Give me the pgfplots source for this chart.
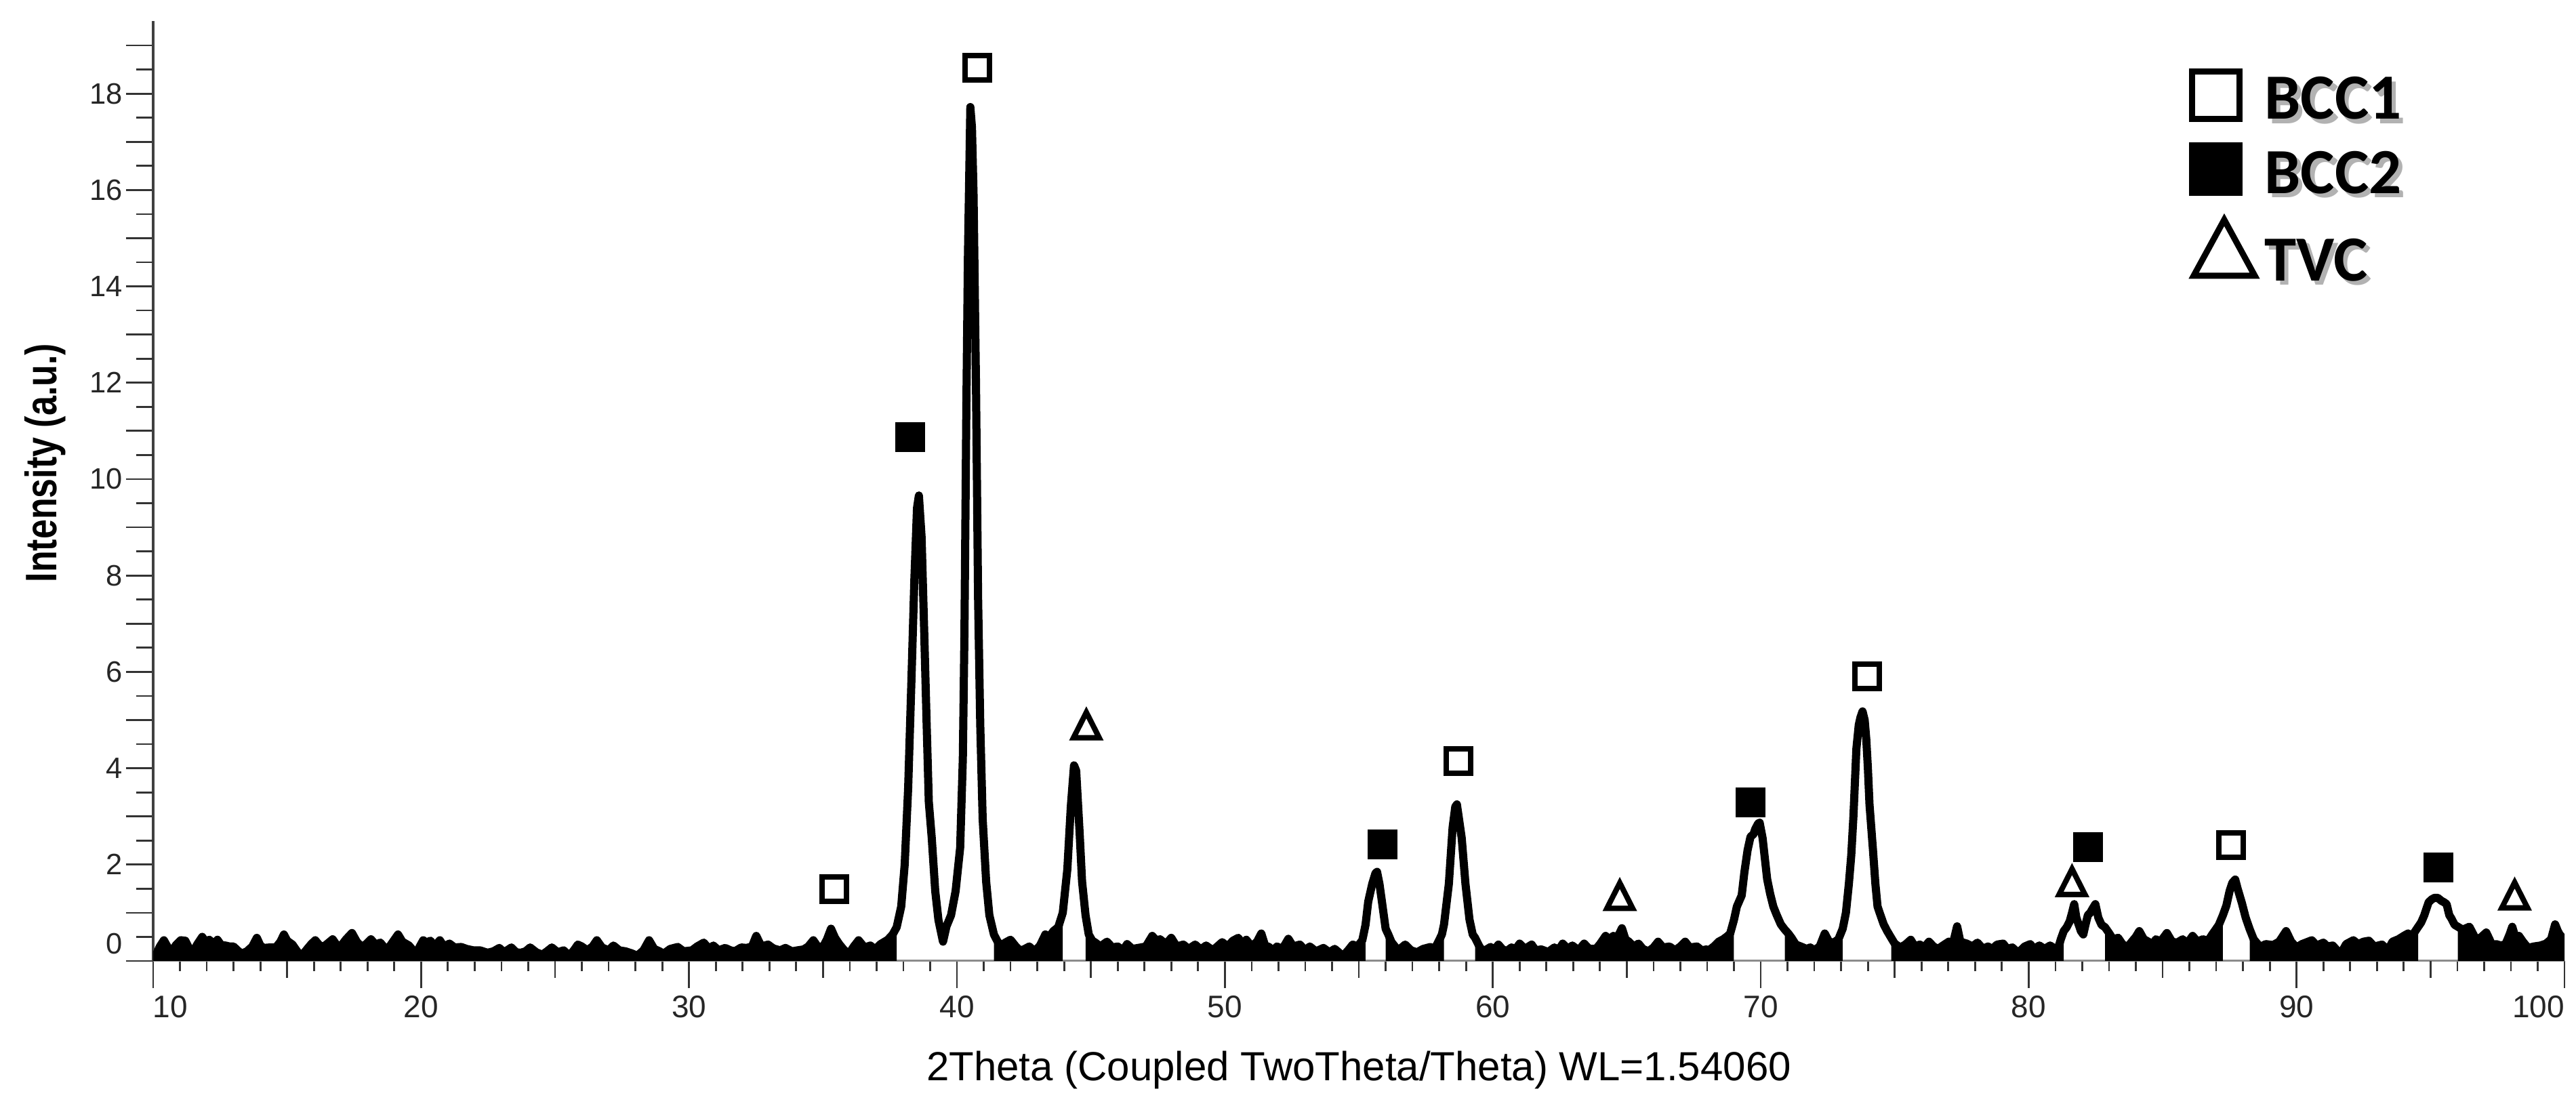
\documentclass[border=0pt]{standalone}
\usepackage{pgfplots}
\pgfplotsset{compat=1.18}
\usepackage{pgfplotstable}
\usepackage{fontspec}
\setmainfont{Liberation Sans}
\newfontfamily\ylabfont[FakeStretch=0.8]{Liberation Sans}
\newfontfamily\legfont{Carlito}
\newcommand\shadowed[1]{\makebox[0pt][l]{\hspace{1.3pt}\raisebox{-1.3pt}{\color{black!30}#1}}#1}

\pgfdeclareplotmark{tvc}{%
  \pgfpathmoveto{\pgfqpoint{0pt}{0.85\pgfplotmarksize}}%
  \pgfpathlineto{\pgfqpoint{0.95\pgfplotmarksize}{-1.025\pgfplotmarksize}}%
  \pgfpathlineto{\pgfqpoint{-0.95\pgfplotmarksize}{-1.025\pgfplotmarksize}}%
  \pgfpathclose
  \pgfusepathqfillstroke}

\pgfplotstableread[row sep=\\]{
x y\\
10.0 0.05\\ 10.1 0.12\\ 10.25 0.30\\ 10.4 0.43\\ 10.55 0.28\\ 10.7 0.20\\ 10.85 0.33\\ 11.03 0.43\\ 11.2 0.42\\ 11.35 0.25\\
11.47 0.17\\ 11.65 0.35\\ 11.83 0.50\\ 11.95 0.40\\ 12.1 0.44\\ 12.25 0.34\\ 12.4 0.44\\ 12.55 0.32\\ 12.7 0.32\\ 12.85 0.30\\
13.0 0.30\\ 13.15 0.22\\ 13.3 0.15\\ 13.5 0.20\\ 13.7 0.30\\ 13.87 0.48\\ 14.0 0.32\\ 14.13 0.27\\ 14.35 0.28\\ 14.58 0.28\\
14.75 0.40\\ 14.88 0.55\\ 15.0 0.42\\ 15.2 0.34\\ 15.4 0.18\\ 15.55 0.11\\ 15.75 0.25\\ 15.9 0.35\\ 16.05 0.43\\ 16.2 0.33\\
16.35 0.29\\ 16.55 0.38\\ 16.7 0.45\\ 16.85 0.33\\ 16.98 0.29\\ 17.2 0.45\\ 17.42 0.58\\ 17.6 0.40\\ 17.78 0.29\\ 17.95 0.35\\
18.13 0.45\\ 18.3 0.34\\ 18.48 0.38\\ 18.6 0.30\\ 18.75 0.24\\ 18.95 0.40\\ 19.14 0.55\\ 19.3 0.40\\ 19.55 0.32\\ 19.7 0.22\\
19.82 0.15\\ 19.95 0.30\\ 20.08 0.43\\ 20.2 0.38\\ 20.35 0.42\\ 20.5 0.30\\ 20.7 0.43\\ 20.85 0.30\\ 21.06 0.36\\ 21.25 0.28\\
21.5 0.29\\ 21.7 0.25\\ 21.95 0.22\\ 22.2 0.22\\ 22.48 0.17\\ 22.7 0.20\\ 22.92 0.27\\ 23.1 0.18\\ 23.37 0.28\\ 23.55 0.18\\
23.72 0.17\\ 23.9 0.20\\ 24.07 0.28\\ 24.3 0.18\\ 24.52 0.13\\ 24.7 0.20\\ 24.88 0.28\\ 25.1 0.18\\ 25.32 0.22\\ 25.53 0.11\\
25.7 0.22\\ 25.85 0.34\\ 26.0 0.30\\ 26.2 0.22\\ 26.4 0.30\\ 26.56 0.43\\ 26.75 0.28\\ 27.0 0.22\\ 27.18 0.32\\ 27.4 0.22\\
27.63 0.20\\ 27.85 0.16\\ 28.07 0.11\\ 28.3 0.22\\ 28.51 0.43\\ 28.7 0.25\\ 28.9 0.20\\ 29.05 0.15\\ 29.3 0.25\\ 29.58 0.29\\
29.8 0.20\\ 30.11 0.22\\ 30.3 0.30\\ 30.55 0.38\\ 30.75 0.25\\ 30.91 0.32\\ 31.1 0.22\\ 31.35 0.27\\ 31.55 0.22\\ 31.71 0.20\\
31.95 0.28\\ 32.15 0.27\\ 32.35 0.30\\ 32.51 0.52\\ 32.7 0.30\\ 32.95 0.34\\ 33.15 0.26\\ 33.4 0.22\\ 33.6 0.27\\ 33.84 0.20\\
34.05 0.22\\ 34.28 0.24\\ 34.45 0.30\\ 34.64 0.43\\ 34.8 0.30\\ 35.0 0.29\\ 35.15 0.45\\ 35.3 0.67\\ 35.45 0.48\\ 35.62 0.34\\
35.8 0.22\\ 35.97 0.15\\ 36.15 0.30\\ 36.33 0.43\\ 36.55 0.28\\ 36.77 0.32\\ 36.95 0.24\\ 37.15 0.35\\ 37.42 0.44\\ 37.6 0.55\\
37.75 0.70\\ 37.92 1.13\\ 38.05 2.0\\ 38.18 3.6\\ 38.3 5.8\\ 38.41 7.9\\ 38.51 9.4\\ 38.58 9.66\\ 38.68 8.8\\ 38.78 6.8\\
38.87 4.9\\ 38.95 3.3\\ 39.06 2.55\\ 39.19 1.45\\ 39.31 0.85\\ 39.48 0.40\\ 39.61 0.72\\ 39.78 0.95\\ 39.95 1.45\\ 40.12 2.35\\
40.22 4.2\\ 40.28 6.8\\ 40.35 11.4\\ 40.41 14.6\\ 40.5 17.72\\ 40.56 17.3\\ 40.62 15.9\\ 40.71 12.0\\ 40.79 7.5\\ 40.87 4.9\\
40.96 2.95\\ 41.09 1.65\\ 41.21 0.95\\ 41.38 0.55\\ 41.5 0.42\\ 41.65 0.30\\ 41.8 0.38\\ 42.0 0.44\\ 42.2 0.30\\ 42.35 0.22\\
42.5 0.24\\ 42.7 0.30\\ 42.9 0.20\\ 43.1 0.32\\ 43.3 0.55\\ 43.45 0.50\\ 43.6 0.62\\ 43.78 0.70\\ 43.95 1.0\\ 44.12 1.9\\
44.25 3.2\\ 44.37 4.06\\ 44.45 3.95\\ 44.58 2.65\\ 44.67 1.65\\ 44.8 0.95\\ 44.92 0.55\\ 45.05 0.42\\ 45.17 0.38\\ 45.35 0.30\\
45.6 0.40\\ 45.8 0.28\\ 46.0 0.30\\ 46.2 0.22\\ 46.35 0.35\\ 46.55 0.25\\ 46.86 0.28\\ 47.05 0.30\\ 47.29 0.52\\ 47.45 0.42\\
47.58 0.45\\ 47.8 0.35\\ 48.0 0.48\\ 48.2 0.30\\ 48.45 0.34\\ 48.65 0.25\\ 48.89 0.34\\ 49.1 0.24\\ 49.3 0.32\\ 49.55 0.22\\
49.9 0.39\\ 50.1 0.30\\ 50.3 0.42\\ 50.5 0.48\\ 50.65 0.35\\ 50.8 0.44\\ 51.0 0.30\\ 51.2 0.40\\ 51.36 0.57\\ 51.5 0.32\\
51.65 0.29\\ 51.8 0.20\\ 51.94 0.30\\ 52.15 0.25\\ 52.37 0.46\\ 52.55 0.30\\ 52.8 0.34\\ 53.0 0.22\\ 53.17 0.30\\ 53.4 0.20\\
53.68 0.27\\ 53.9 0.18\\ 54.1 0.25\\ 54.25 0.18\\ 54.4 0.10\\ 54.6 0.22\\ 54.77 0.34\\ 54.95 0.30\\ 55.13 0.43\\ 55.25 0.75\\
55.35 1.23\\ 55.5 1.60\\ 55.62 1.82\\ 55.68 1.85\\ 55.77 1.6\\ 55.86 1.24\\ 56.0 0.67\\ 56.1 0.55\\ 56.22 0.39\\ 56.35 0.30\\
56.44 0.20\\ 56.6 0.28\\ 56.73 0.34\\ 56.95 0.22\\ 57.17 0.18\\ 57.4 0.25\\ 57.67 0.29\\ 57.8 0.22\\ 57.96 0.39\\ 58.1 0.55\\
58.18 0.76\\ 58.36 1.6\\ 58.5 2.77\\ 58.6 3.2\\ 58.66 3.25\\ 58.75 2.9\\ 58.84 2.55\\ 58.98 1.6\\ 59.13 0.86\\ 59.25 0.55\\
59.34 0.48\\ 59.5 0.30\\ 59.63 0.20\\ 59.8 0.25\\ 59.92 0.29\\ 60.05 0.22\\ 60.21 0.34\\ 60.35 0.25\\ 60.5 0.20\\ 60.7 0.28\\
60.85 0.24\\ 61.0 0.36\\ 61.2 0.25\\ 61.45 0.34\\ 61.6 0.22\\ 61.81 0.24\\ 62.0 0.20\\ 62.1 0.20\\ 62.3 0.28\\ 62.45 0.22\\
62.61 0.36\\ 62.8 0.25\\ 62.97 0.32\\ 63.2 0.22\\ 63.41 0.36\\ 63.6 0.25\\ 63.85 0.25\\ 64.0 0.35\\ 64.21 0.52\\ 64.35 0.45\\
64.5 0.52\\ 64.65 0.48\\ 64.82 0.68\\ 64.95 0.45\\ 65.08 0.40\\ 65.25 0.30\\ 65.44 0.36\\ 65.6 0.25\\ 65.81 0.20\\ 66.0 0.28\\
66.17 0.40\\ 66.35 0.28\\ 66.6 0.30\\ 66.8 0.22\\ 67.0 0.30\\ 67.18 0.40\\ 67.35 0.28\\ 67.62 0.30\\ 67.8 0.22\\ 67.98 0.24\\
68.06 0.22\\ 68.25 0.30\\ 68.43 0.40\\ 68.6 0.45\\ 68.77 0.52\\ 68.86 0.57\\ 69.0 0.85\\ 69.11 1.13\\ 69.29 1.36\\ 69.39 1.84\\
69.51 2.3\\ 69.62 2.58\\ 69.73 2.63\\ 69.79 2.73\\ 69.9 2.85\\ 69.96 2.87\\ 70.07 2.55\\ 70.24 1.70\\ 70.35 1.4\\ 70.47 1.13\\
70.6 0.95\\ 70.75 0.76\\ 70.9 0.65\\ 71.03 0.57\\ 71.15 0.48\\ 71.31 0.34\\ 71.5 0.30\\ 71.71 0.25\\ 71.85 0.28\\ 71.99 0.22\\
72.2 0.30\\ 72.39 0.57\\ 72.55 0.40\\ 72.72 0.38\\ 72.9 0.45\\ 73.06 0.67\\ 73.18 1.0\\ 73.29 1.6\\ 73.38 2.2\\ 73.46 3.0\\
73.57 4.4\\ 73.66 4.9\\ 73.72 5.05\\ 73.8 5.18\\ 73.88 5.0\\ 73.94 4.6\\ 74.0 4.0\\ 74.06 3.25\\ 74.19 2.3\\ 74.28 1.6\\
74.36 1.13\\ 74.47 0.95\\ 74.59 0.76\\ 74.72 0.62\\ 74.87 0.48\\ 75.0 0.36\\ 75.21 0.28\\ 75.4 0.34\\ 75.6 0.44\\ 75.75 0.30\\
75.94 0.34\\ 76.1 0.28\\ 76.28 0.40\\ 76.45 0.30\\ 76.62 0.25\\ 76.8 0.32\\ 77.02 0.40\\ 77.15 0.30\\ 77.33 0.72\\ 77.45 0.40\\
77.69 0.36\\ 77.9 0.30\\ 78.09 0.38\\ 78.3 0.25\\ 78.48 0.30\\ 78.65 0.25\\ 78.82 0.34\\ 79.05 0.36\\ 79.2 0.25\\ 79.39 0.28\\
79.55 0.20\\ 79.67 0.20\\ 79.85 0.30\\ 80.06 0.35\\ 80.2 0.25\\ 80.4 0.32\\ 80.6 0.25\\ 80.8 0.32\\ 81.0 0.25\\ 81.08 0.22\\
81.2 0.45\\ 81.31 0.62\\ 81.42 0.70\\ 81.53 0.82\\ 81.62 1.0\\ 81.7 1.18\\ 81.78 0.9\\ 81.87 0.75\\ 81.95 0.62\\ 82.04 0.55\\
82.12 0.75\\ 82.21 0.95\\ 82.3 1.0\\ 82.38 1.08\\ 82.49 1.18\\ 82.6 0.9\\ 82.72 0.75\\ 82.85 0.70\\ 83.0 0.58\\ 83.15 0.45\\
83.34 0.48\\ 83.5 0.35\\ 83.68 0.28\\ 83.85 0.40\\ 84.0 0.50\\ 84.13 0.62\\ 84.3 0.45\\ 84.47 0.40\\ 84.6 0.32\\ 84.75 0.45\\
84.92 0.40\\ 85.16 0.58\\ 85.35 0.40\\ 85.54 0.38\\ 85.75 0.45\\ 85.9 0.35\\ 86.12 0.52\\ 86.3 0.40\\ 86.5 0.45\\ 86.7 0.42\\
86.85 0.55\\ 86.99 0.66\\ 87.1 0.75\\ 87.25 0.95\\ 87.38 1.15\\ 87.5 1.45\\ 87.6 1.62\\ 87.71 1.69\\ 87.8 1.5\\ 87.96 1.2\\
88.1 0.9\\ 88.25 0.66\\ 88.4 0.45\\ 88.64 0.29\\ 88.85 0.35\\ 89.12 0.33\\ 89.35 0.40\\ 89.61 0.62\\ 89.8 0.40\\ 90.0 0.28\\
90.2 0.35\\ 90.57 0.43\\ 90.75 0.32\\ 91.0 0.38\\ 91.15 0.30\\ 91.35 0.32\\ 91.64 0.14\\ 91.85 0.35\\ 92.12 0.43\\ 92.3 0.35\\
92.5 0.40\\ 92.7 0.42\\ 92.9 0.30\\ 93.19 0.34\\ 93.41 0.22\\ 93.58 0.40\\ 93.8 0.45\\ 94.0 0.52\\ 94.16 0.57\\ 94.3 0.52\\
94.42 0.61\\ 94.54 0.71\\ 94.65 0.80\\ 94.76 0.94\\ 94.93 1.22\\ 95.05 1.28\\ 95.15 1.31\\ 95.27 1.31\\ 95.4 1.25\\ 95.5 1.22\\
95.6 1.18\\ 95.7 0.95\\ 95.77 0.89\\ 95.9 0.75\\ 96.02 0.71\\ 96.2 0.65\\ 96.45 0.71\\ 96.6 0.55\\ 96.7 0.43\\ 96.9 0.50\\
97.08 0.59\\ 97.2 0.45\\ 97.29 0.33\\ 97.45 0.35\\ 97.63 0.32\\ 97.8 0.35\\ 97.95 0.55\\ 98.05 0.71\\ 98.15 0.52\\ 98.3 0.52\\
98.45 0.40\\ 98.64 0.27\\ 98.85 0.30\\ 99.1 0.32\\ 99.31 0.36\\ 99.5 0.45\\ 99.65 0.76\\ 99.75 0.62\\ 99.82 0.55\\ 100.0 0.43\\
}\xrd

\begin{document}
\begin{tikzpicture}
\begin{axis}[
  scale only axis, width=711.6pt, height=277.3pt,
  xmin=10, xmax=100, ymin=0, ymax=19.5,
  axis x line=bottom, axis y line=left,
  x axis line style={-, draw=black!45, line width=0.6pt},
  y axis line style={-, draw=black!75, line width=0.7pt},
  tick align=outside,
  major tick length=8pt, minor tick length=3pt,
  tick style={black!80, line width=0.55pt},
  xtick={10,20,...,100}, minor x tick num=9,
  xticklabels={\makebox[0pt][l]{10},20,30,40,50,60,70,80,90,\makebox[0pt][r]{100}},
  extra x ticks={15,25,...,95}, extra x tick labels={},
  extra x tick style={major tick length=5pt},
  ytick={0,1,...,19},
  yticklabels={{\raisebox{5pt}[\height][\depth]{0}},,2,,4,,6,,8,,10,,12,,14,,16,,18,},
  extra y ticks={0.5,1.5,...,18.5}, extra y tick labels={},
  extra y tick style={major tick length=5pt},
  /pgf/number format/assume math mode=true,
  xticklabel style={font=\fontsize{9.2}{11}\selectfont, text=black!85, inner sep=0pt, yshift=-2pt},
  yticklabel style={font=\fontsize{8.7}{10}\selectfont, text=black!85, inner sep=0pt, xshift=-0.8pt},
  xlabel={2Theta (Coupled TwoTheta/Theta) WL=1.54060},
  xlabel style={font=\fontsize{12}{14}\selectfont, at={(rel axis cs:0.5,0)}, anchor=base, yshift=-35.4pt},
  ylabel={Intensity (a.u.)},
  ylabel style={font=\ylabfont\bfseries\fontsize{13}{15}\selectfont, at={(rel axis cs:0,0.53)}, anchor=center, yshift=31.8pt},
  legend style={draw=none, fill=none, at={(rel axis cs:0.844,0.9506)}, anchor=north west, inner sep=0pt,
    font=\legfont\bfseries\fontsize{19}{22}\selectfont, row sep=3.4pt},
  legend cell align=left,
]
\addplot[forget plot, fill=black, draw=none, restrict x to domain=10:37.75] table[x=x,y=y]{\xrd} \closedcycle;
\addplot[forget plot, fill=black, draw=none, restrict x to domain=41.38:43.95] table[x=x,y=y]{\xrd} \closedcycle;
\addplot[forget plot, fill=black, draw=none, restrict x to domain=44.8:55.25] table[x=x,y=y]{\xrd} \closedcycle;
\addplot[forget plot, fill=black, draw=none, restrict x to domain=56.0:58.18] table[x=x,y=y]{\xrd} \closedcycle;
\addplot[forget plot, fill=black, draw=none, restrict x to domain=59.34:69.0] table[x=x,y=y]{\xrd} \closedcycle;
\addplot[forget plot, fill=black, draw=none, restrict x to domain=70.9:73.06] table[x=x,y=y]{\xrd} \closedcycle;
\addplot[forget plot, fill=black, draw=none, restrict x to domain=74.87:81.31] table[x=x,y=y]{\xrd} \closedcycle;
\addplot[forget plot, fill=black, draw=none, restrict x to domain=82.85:87.25] table[x=x,y=y]{\xrd} \closedcycle;
\addplot[forget plot, fill=black, draw=none, restrict x to domain=88.25:94.54] table[x=x,y=y]{\xrd} \closedcycle;
\addplot[forget plot, fill=black, draw=none, restrict x to domain=96.02:100] table[x=x,y=y]{\xrd} \closedcycle;
\addplot[forget plot, black, line width=2.4pt, line join=round] table[x=x,y=y]{\xrd};

\addplot[only marks, mark=square*, mark size=3.6pt,
  mark options={line width=1.6pt, draw=black, fill=white, solid},
  legend image code/.code={\draw[line width=1.8pt, fill=white] (-4pt,-5.4pt) rectangle (10pt,8.6pt);}]
  coordinates {(35.42,1.49) (40.76,18.54) (58.72,4.15) (73.98,5.91) (87.56,2.41)};
\addlegendentry{\shadowed{BCC1}}
\addplot[only marks, mark=square*, mark size=3.6pt,
  mark options={line width=1.6pt, draw=black, fill=black, solid},
  legend image code/.code={\draw[line width=1.8pt, fill=black] (-4pt,-5.4pt) rectangle (10pt,8.6pt);}]
  coordinates {(38.26,10.87) (55.89,2.42) (69.63,3.29) (82.22,2.36) (95.30,1.94)};
\addlegendentry{\shadowed{BCC2}}
\addplot[only marks, mark=tvc, mark size=4pt,
  mark options={line width=1.6pt, draw=black, fill=white, solid, line join=miter},
  legend image code/.code={\draw[line width=1.8pt, fill=white, line join=miter] (5.5pt,12.5pt) -- (14.5pt,-4pt) -- (-3.5pt,-4pt) -- cycle;}]
  coordinates {(44.83,4.92) (64.74,1.38) (81.62,1.67) (98.14,1.39)};
\addlegendentry{\shadowed{TVC}}
\end{axis}
\pgfresetboundingbox
\path (current axis.south west) ++(-45.2pt,-42.8pt) rectangle ++(760.2pt,326.4pt);
\end{tikzpicture}
\end{document}
